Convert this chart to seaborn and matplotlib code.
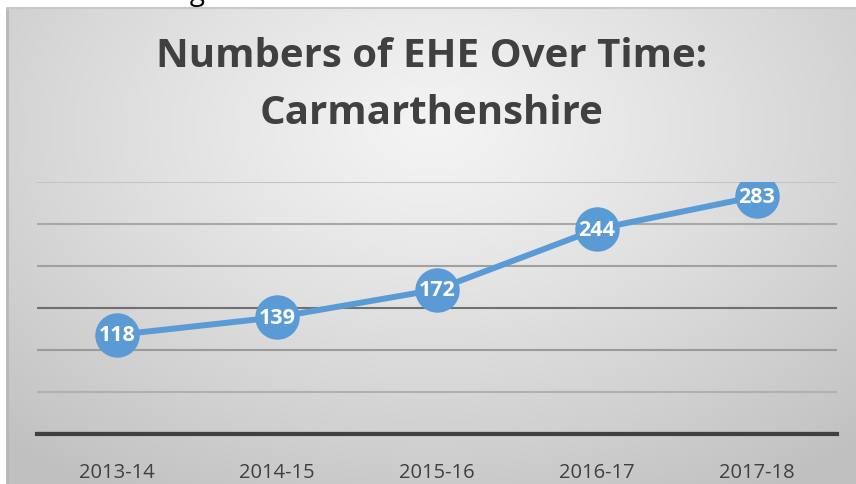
import numpy as np
import pandas as pd
import matplotlib
matplotlib.use("Agg")
import matplotlib.pyplot as plt
import seaborn as sns

years = ["2013-14", "2014-15", "2015-16", "2016-17", "2017-18"]
counts = [118, 139, 172, 244, 283]
title = "Numbers of EHE Over Time:\nCarmarthenshire"
y_ticks = [0, 50, 100, 150, 200, 250, 300]

df = pd.DataFrame({"year": years, "count": counts})

sns.set_theme(style="white")
plt.rcParams['font.family'] = ['Open Sans', 'DejaVu Sans']

W, H = 856, 485
fig = plt.figure(figsize=(W / 100, H / 100), dpi=100)

# background chart area with radial gradient
bg = fig.add_axes([7 / W, 0, 1 - 7 / W, (H - 9) / H])
gx = np.linspace(0, 1, 400)
gy = np.linspace(0, 1, 240)
X, Y = np.meshgrid(gx, gy)
cx, cy = 0.5, 0.25
R = np.sqrt(((X - cx) / 0.75) ** 2 + ((Y - cy) / 0.9) ** 2)
R = np.clip(R, 0, 1)
val = 0.955 - 0.20 * R ** 1.2
img = np.dstack([val, val, val])
bg.imshow(img, aspect="auto", extent=[0, 1, 0, 1], origin="upper")
bg.set_xlim(0, 1)
bg.set_ylim(0, 1)
bg.axis("off")
bg.plot([0, 0], [0, 1], color="#b8b8b8", lw=2, transform=bg.transAxes, clip_on=False)
bg.plot([0, 1], [1, 1], color="#c8c8c8", lw=1.5, transform=bg.transAxes, clip_on=False)

ax = fig.add_axes([37 / W, 1 - 435 / H, 800 / W, 252 / H])
ax.patch.set_alpha(0)
sns.lineplot(data=df, x="year", y="count", ax=ax, color="#5B9BD5", lw=4.3,
             marker="o", markersize=32, markeredgewidth=0, sort=False, zorder=3)
for i, (yr, c) in enumerate(zip(years, counts)):
    ax.text(i, c, str(c), ha="center", va="center", color="white",
            fontsize=15.5, fontweight="bold", zorder=4)

ax.set_xlim(-0.5, len(years) - 0.5)
ax.set_ylim(0, 300)
ax.set_yticks(y_ticks)
ax.set_yticklabels([])
ax.tick_params(axis="y", length=0)
ax.tick_params(axis="x", length=0, pad=20, labelsize=14.5, labelcolor="#404040")
ax.grid(axis="y", color="#a8a8a8", lw=1.5)
grid_cols = ["#404040", "#b0b0b0", "#9a9a9a", "#707070", "#a0a0a0", "#a8a8a8", "#c4c4c4"]
for gl, col in zip(ax.get_ygridlines(), grid_cols):
    gl.set_color(col)
ax.get_ygridlines()[0].set_linewidth(3)
ax.set_axisbelow(True)
for sp in ["top", "right", "left"]:
    ax.spines[sp].set_visible(False)
ax.spines["bottom"].set_color("#404040")
ax.spines["bottom"].set_linewidth(3)
ax.set_xlabel("")
ax.set_ylabel("")

fig.text(432 / W, 1 - 85 / H, title, ha="center", va="center", fontsize=29,
         fontweight="bold", color="#404040", linespacing=1.62)

fig.text(35 / W, 1.0, "Numbers registered as EHE in Carmarthenshire",
         ha="left", va="baseline", fontsize=20, color="#000000")

fig.savefig("out.png", dpi=100)
